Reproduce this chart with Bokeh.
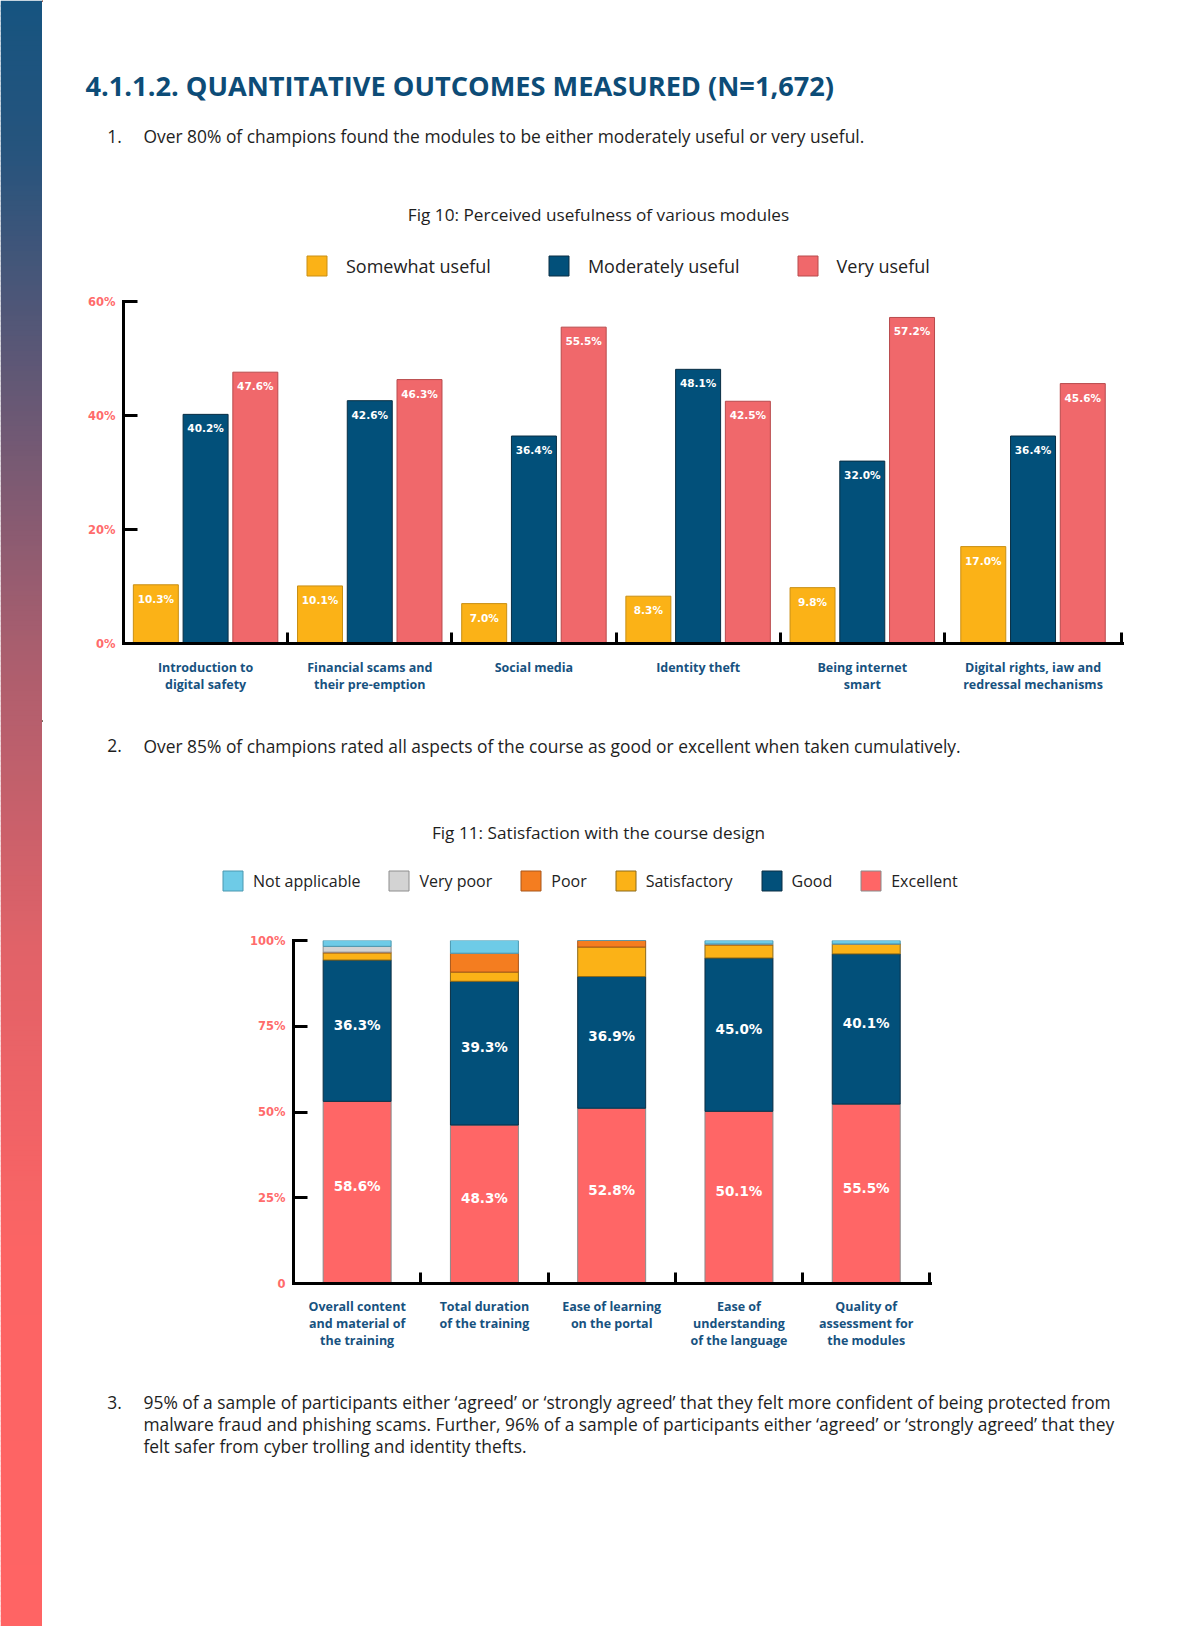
import numpy as np
from bokeh.plotting import figure
from bokeh.models import Range1d, FixedTicker, Legend, LegendItem, ColumnDataSource
from bokeh.layouts import row, column
from bokeh.core.properties import value
from bokeh.embed import file_html
from bokeh.resources import INLINE

# ---------------- data ----------------
heading = "4.1.1.2. QUANTITATIVE OUTCOMES MEASURED (N=1,672)"
point1 = "Over 80% of champions found the modules to be either moderately useful or very useful."
point2 = "Over 85% of champions rated all aspects of the course as good or excellent when taken cumulatively."
point3 = ["95% of a sample of participants either \u2018agreed\u2019 or \u2018strongly agreed\u2019 that they felt more confident of being protected from",
          "malware fraud and phishing scams. Further, 96% of a sample of participants either \u2018agreed\u2019 or \u2018strongly agreed\u2019 that they",
          "felt safer from cyber trolling and identity thefts."]
fig10_title = "Fig 10: Perceived usefulness of various modules"
fig11_title = "Fig 11: Satisfaction with the course design"

fig10_modules = ["Introduction to\ndigital safety", "Financial scams and\ntheir pre-emption", "Social media",
                 "Identity theft", "Being internet\nsmart", "Digital rights, iaw and\nredressal mechanisms"]
fig10_series = ["Somewhat useful", "Moderately useful", "Very useful"]
somewhat_useful = [10.3, 10.1, 7.0, 8.3, 9.8, 17.0]
moderately_useful = [40.2, 42.6, 36.4, 48.1, 32.0, 36.4]
very_useful = [47.6, 46.3, 55.5, 42.5, 57.2, 45.6]
fig10_ticks = [0, 20, 40, 60]
fig10_tick_labels = ["0%", "20%", "40%", "60%"]

fig11_aspects = ["Overall content\nand material of\nthe training", "Total duration\nof the training",
                 "Ease of learning\non the portal", "Ease of\nunderstanding\nof the language",
                 "Quality of\nassessment for\nthe modules"]
fig11_series = ["Excellent", "Good", "Satisfactory", "Poor", "Very poor", "Not applicable"]  # bottom -> top
excellent = [53.1, 46.2, 51.1, 50.2, 52.3]
good = [41.2, 41.9, 38.4, 44.7, 43.8]
satisfactory = [2.1, 2.7, 8.6, 3.8, 2.9]
poor = [0.2, 5.5, 1.9, 0.2, 0.0]
very_poor = [1.7, 0.0, 0.0, 0.1, 0.0]
not_applicable = [1.7, 3.7, 0.0, 1.0, 1.0]
excellent_labels = ["58.6%", "48.3%", "52.8%", "50.1%", "55.5%"]
good_labels = ["36.3%", "39.3%", "36.9%", "45.0%", "40.1%"]
fig11_ticks = [0, 25, 50, 75, 100]
fig11_tick_labels = ["0", "25%", "50%", "75%", "100%"]

# ---------------- styles ----------------
YEL, YEL_E = "#FBB217", "#C98F14"
NAVY, NAVY_E = "#02507A", "#0A2E44"
CORAL, CORAL_E = "#F0686B", "#B84A4C"
RED, RED_E = "#FF6666", "#8A8A8A"
ORANGE, ORANGE_E = "#F47D20", "#A8561A"
LBLUE, LBLUE_E = "#6ECBE7", "#4A98B0"
GRAY, GRAY_E = "#D3D3D3", "#8E8E8E"
TITLE_C = "#0D4C77"
CAT_C = "#17527F"
TICK_C = "#FF6B6B"
BODY_C = "#1E1E1E"
BODY_FONT = "Open Sans"
NUM_FONT = "DejaVu Sans"
BODY_SIZE = "17.4px"

PAGE_W, PAGE_H = 1193, 1626
STRIPE_W = 42
W = PAGE_W - STRIPE_W          # content width


def base_fig(**kw):
    f = figure(output_backend="svg", toolbar_location=None, title=None, **kw)
    f.frame_align = False
    f.outline_line_color = None
    f.grid.visible = False
    return f


def text_fig(h):
    f = base_fig(width=W, height=h, x_range=Range1d(0, W), y_range=Range1d(h, 0), min_border=0)
    f.axis.visible = False
    return f


def body(f, x, y, txt, size=BODY_SIZE, color=BODY_C, bold=False, align="left"):
    f.text(x=[x], y=[y], text=[txt], text_font=value(BODY_FONT), text_font_size=size,
           text_color=color, text_baseline="middle", text_align=align,
           text_font_style="bold" if bold else "normal")


def add_legend(f, names, fills, edges, loc, standoff, spacing, size):
    # legend swatches: one off-range bar per series (never visible in the text panel)
    items = []
    for name, fc, ec in zip(names, fills, edges):
        r = f.vbar(x=[-1000], top=[1], bottom=[0], width=1, fill_color=fc, line_color=ec, line_width=1)
        items.append(LegendItem(label=name, renderers=[r]))
    leg = Legend(items=items, orientation="horizontal", location=loc, glyph_width=25, glyph_height=25,
                 label_standoff=standoff, spacing=spacing, padding=0, margin=0, border_line_alpha=0,
                 background_fill_alpha=0, label_text_font=BODY_FONT, label_text_font_size=size,
                 label_text_color="#222222")
    f.add_layout(leg, "center")


def style_axes(xa, ya, centers, bounds, cats, ticks, tick_labels, cat_standoff):
    xa.ticker = FixedTicker(ticks=centers, minor_ticks=bounds)
    xa.major_label_overrides = {c: m for c, m in zip(centers, cats)}
    xa.major_tick_line_color = None
    xa.major_tick_in = 0
    xa.major_tick_out = 0
    xa.minor_tick_in = 11
    xa.minor_tick_out = 0
    xa.minor_tick_line_width = 3
    xa.minor_tick_line_color = "black"
    xa.axis_line_width = 3
    xa.axis_line_color = "black"
    xa.axis_line_cap = "square"
    xa.major_label_standoff = cat_standoff
    xa.major_label_text_font = BODY_FONT
    xa.major_label_text_font_style = "bold"
    xa.major_label_text_font_size = "12.5px"
    xa.major_label_text_color = CAT_C
    xa.major_label_text_line_height = 1.0

    ya.ticker = FixedTicker(ticks=ticks, minor_ticks=[])
    ya.major_label_overrides = {t: l for t, l in zip(ticks, tick_labels)}
    ya.major_tick_in = 14
    ya.major_tick_out = 0
    ya.major_tick_line_width = 3
    ya.major_tick_line_color = "black"
    ya.minor_tick_line_color = None
    ya.axis_line_width = 3
    ya.axis_line_color = "black"
    ya.axis_line_cap = "square"
    ya.major_label_standoff = 8
    ya.major_label_text_font = NUM_FONT
    ya.major_label_text_font_style = "bold"
    ya.major_label_text_font_size = "11.5px"
    ya.major_label_text_color = TICK_C


# ---------------- stripe ----------------
stripe = base_fig(width=STRIPE_W, height=PAGE_H, x_range=Range1d(0, 1),
                  y_range=Range1d(PAGE_H, 0), min_border=0)
stripe.axis.visible = False
stop_y = [0, 150, 350, 650, 950, 1250, 1626]
stop_c = np.array([(22, 84, 128), (38, 84, 125), (90, 87, 118), (170, 94, 110),
                   (225, 98, 104), (252, 100, 100), (255, 100, 100)], dtype=float)
band_top = np.arange(0, PAGE_H, 5)
band_cols = []
for yy in band_top + 2.5:
    rgb = [np.interp(yy, stop_y, stop_c[:, k]) for k in range(3)]
    band_cols.append("#%02x%02x%02x" % tuple(int(round(v)) for v in rgb))
stripe.quad(left=0, right=1, top=band_top, bottom=band_top + 6, fill_color=band_cols, line_color=None)

# ---------------- header (page y 0..285) ----------------
H1 = 285
h1 = text_fig(H1)
h1.text(x=[43], y=[85], text=[heading], text_font=value(BODY_FONT), text_font_size="27.2px",
        text_font_style="bold", text_color=TITLE_C, text_baseline="middle")
body(h1, 64.7, 135.7, "1.")
body(h1, 101, 135.7, point1)
body(h1, 556, 214, fig10_title, size="17.2px", align="center")

fills10 = [YEL, NAVY, CORAL]
edges10 = [YEL_E, NAVY_E, CORAL_E]
add_legend(h1, fig10_series, fills10, edges10, loc=(262, 7), standoff=17, spacing=55, size="18px")

# ---------------- Fig 10 (page y 285..720) ----------------
X_END10 = 6.085
bounds10 = [0, 1, 2, 3, 4, 5, 6.08]
centers10 = [round((bounds10[i] + bounds10[i + 1]) / 2, 3) for i in range(len(fig10_modules))]
p10 = base_fig(width=W, height=435, x_range=Range1d(0, X_END10), y_range=Range1d(0, 60),
               min_border_left=81, min_border_right=W - 81 - 999, min_border_top=16, min_border_bottom=77)

offsets = [-0.303, 0.0, 0.303]
series10 = [somewhat_useful, moderately_useful, very_useful]
for vals, off, fc, ec in zip(series10, offsets, fills10, edges10):
    xs = [c + off for c in centers10]
    p10.vbar(x=xs, top=vals, width=0.274, fill_color=fc, line_color=ec, line_width=1)
    p10.text(x=xs, y=vals, text=["%.1f%%" % v for v in vals], y_offset=14,
             text_align="center", text_baseline="middle", text_color="white",
             text_font=value(NUM_FONT), text_font_style="bold", text_font_size="10.5px")

style_axes(p10.xaxis[0], p10.yaxis[0], centers10, bounds10[1:], fig10_modules,
           fig10_ticks, fig10_tick_labels, 15)

# ---------------- middle text (page y 720..905) ----------------
H2 = 185
h2 = text_fig(H2)
body(h2, 64.7, 25, "2.")
body(h2, 101, 25, point2)
body(h2, 556, 112, fig11_title, size="17.2px", align="center")

fills11 = [RED, NAVY, YEL, ORANGE, GRAY, LBLUE]
edges11 = [RED_E, NAVY_E, "#8C6A1A", ORANGE_E, GRAY_E, LBLUE_E]
add_legend(h2, list(reversed(fig11_series)), list(reversed(fills11)), list(reversed(edges11)),
           loc=(178, 12), standoff=8, spacing=26, size="16px")

# ---------------- Fig 11 (page y 905..1355) ----------------
n11 = len(fig11_aspects)
X_END11 = n11 + 0.005
centers11 = [i + 0.5 for i in range(n11)]
bounds11 = [float(i) for i in range(1, n11 + 1)]
p11 = base_fig(width=W, height=450, x_range=Range1d(0, X_END11), y_range=Range1d(0, 100),
               min_border_left=251, min_border_right=W - 251 - 637, min_border_top=35, min_border_bottom=72)

stack_keys = ["excellent", "good", "satisfactory", "poor", "very_poor", "not_applicable"]
src11 = ColumnDataSource(dict(x=centers11, excellent=excellent, good=good, satisfactory=satisfactory,
                              poor=poor, very_poor=very_poor, not_applicable=not_applicable))
p11.vbar_stack(stack_keys, x="x", width=0.534, source=src11, fill_color=fills11,
               line_color=edges11, line_width=1)

exc_mid = [e / 2 for e in excellent]
good_mid = [e + g / 2 for e, g in zip(excellent, good)]
for ys, labs in ((exc_mid, excellent_labels), (good_mid, good_labels)):
    p11.text(x=centers11, y=ys, text=labs, y_offset=-6, text_align="center", text_baseline="middle",
             text_color="white", text_font=value(NUM_FONT), text_font_style="bold",
             text_font_size="13.5px")

style_axes(p11.xaxis[0], p11.yaxis[0], centers11, bounds11, fig11_aspects,
           fig11_ticks, fig11_tick_labels, 14)

# ---------------- footer (page y 1355..1626) ----------------
H3 = PAGE_H - H1 - 435 - H2 - 450
h3 = text_fig(H3)
body(h3, 64.7, 46.7, "3.")
for i, line in enumerate(point3):
    body(h3, 101, 46.7 + 21.7 * i, line)

page = row(stripe, column(h1, p10, h2, p11, h3, spacing=0), spacing=0)
open("out.html", "w").write(file_html(page, INLINE))
